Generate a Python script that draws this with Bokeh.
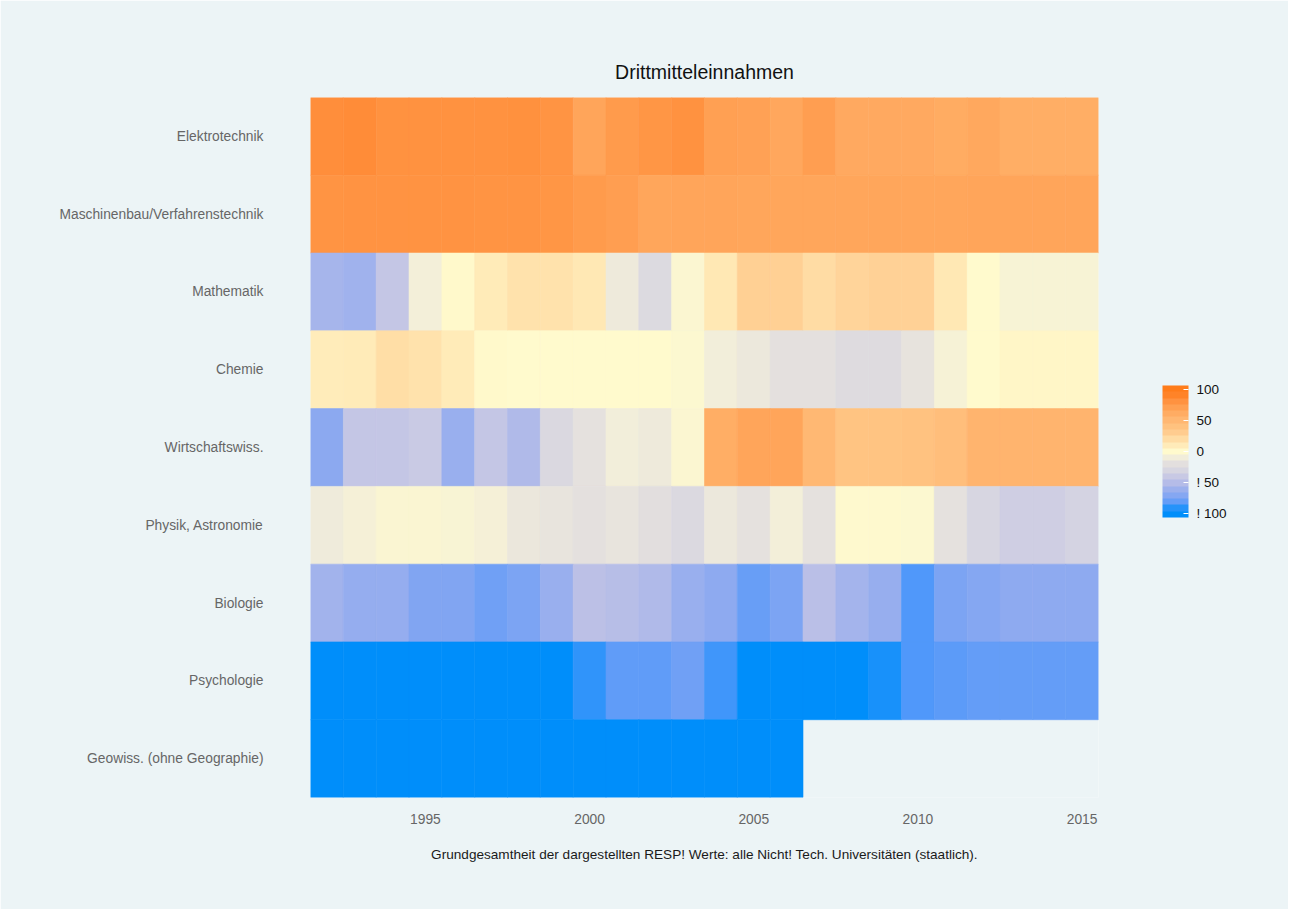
import numpy as np
from bokeh.plotting import figure
from bokeh.models import (ColumnDataSource, LinearColorMapper, ColorBar, FixedTicker,
                          Range1d, Title)
from bokeh.embed import file_html
from bokeh.resources import INLINE

# ---------------- data ----------------
years = list(range(1992, 2016))
rows = ["Elektrotechnik", "Maschinenbau/Verfahrenstechnik", "Mathematik", "Chemie",
        "Wirtschaftswiss.", "Physik, Astronomie", "Biologie", "Psychologie",
        "Geowiss. (ohne Geographie)"]

elektrotechnik = [88, 90, 85, 85, 85, 85, 86, 83, 70, 78, 82, 85,
                  74, 73, 68, 75, 66, 66, 66, 64, 67, 62, 62, 62]
maschinenbau = [83, 84, 84, 84, 84, 83, 83, 82, 78, 75, 69, 70,
                70, 69, 69, 69, 69, 69, 69, 69, 70, 70, 70, 70]
mathematik = [-59, -62, -45, -9, 1, 11, 17, 17, 13, -13, -28, -3,
              13, 29, 29, 21, 26, 28, 28, 13, 0, -6, -6, -6]
chemie = [10, 11, 20, 17, 11, 1, 0, 0, 0, 0, 0, -2,
          -10, -14, -20, -20, -26, -26, -18, -7, 0, 3, 3, 3]
wirtschaft = [-71, -45, -45, -42, -65, -45, -55, -30, -19, -10, -13, -3,
              62, 70, 70, 52, 40, 40, 42, 46, 56, 56, 56, 56]
physik = [-12, -8, -4, -4, -5, -8, -15, -17, -20, -17, -22, -29,
          -14, -19, -9, -19, -1, -1, -2, -19, -32, -38, -38, -34]
biologie = [-61, -67, -67, -76, -76, -82, -78, -65, -50, -52, -55, -65,
            -70, -84, -78, -51, -60, -66, -90, -78, -74, -70, -70, -70]
psychologie = [-100, -100, -100, -100, -100, -100, -100, -100, -94, -86, -86, -82,
               -92, -100, -100, -100, -100, -97, -90, -87, -85, -85, -85, -85]
geowiss = [-100] * 15 + [None] * 9

series = [elektrotechnik, maschinenbau, mathematik, chemie, wirtschaft, physik,
          biologie, psychologie, geowiss]

legend_ticks = [-100, -50, 0, 50, 100]
legend_labels = {-100: "! 100", -50: "! 50", 0: "0", 50: "50", 100: "100"}

title_text = "Drittmitteleinnahmen"
caption_text = "Grundgesamtheit der dargestellten RESP! Werte: alle Nicht! Tech. Universitäten (staatlich)."

# ---------------- palette ----------------
anchor_vals = [-100, -90, -80, -70, -60, -50, -40, -30, -20, -10, 0,
               10, 20, 30, 40, 50, 60, 70, 80, 90, 100]
anchor_rgb = [(0, 142, 250), (80, 152, 250), (120, 162, 244), (142, 170, 240),
              (164, 180, 236), (188, 192, 230), (204, 204, 228), (218, 216, 224),
              (228, 224, 222), (242, 238, 218), (255, 250, 205),
              (255, 236, 186), (255, 222, 166), (255, 206, 146), (255, 196, 130),
              (255, 186, 118), (255, 176, 104), (255, 165, 90), (255, 152, 72),
              (255, 140, 56), (255, 124, 26)]


def make_palette(n, lo=-100, hi=100):
    xs = np.linspace(lo, hi, n)
    arr = np.array(anchor_rgb, dtype=float)
    out = []
    for x in xs:
        r = np.interp(x, anchor_vals, arr[:, 0])
        g = np.interp(x, anchor_vals, arr[:, 1])
        b = np.interp(x, anchor_vals, arr[:, 2])
        out.append("#%02x%02x%02x" % (int(round(r)), int(round(g)), int(round(b))))
    return out


cell_mapper = LinearColorMapper(palette=make_palette(201), low=-100, high=100)
bar_mapper = LinearColorMapper(palette=make_palette(21, -106, 106), low=-106, high=106)

xs, ys, vs = [], [], []
for name, vals in zip(rows, series):
    for yr, v in zip(years, vals):
        if v is None:
            continue
        xs.append(yr)
        ys.append(name)
        vs.append(v)
src = ColumnDataSource(dict(x=xs, y=ys, v=vs))

BG = "#ecf4f6"
W, H = 1288, 909
p = figure(width=W, height=H, output_backend="svg", toolbar_location=None,
           x_range=Range1d(1991.5, 2015.5), y_range=list(reversed(rows)),
           min_border_left=310, min_border_right=W - 1098, min_border_top=97,
           min_border_bottom=H - 797)
p.background_fill_color = BG
p.border_fill_color = BG
p.outline_line_color = None
p.grid.visible = False

p.rect(x="x", y="y", width=1, height=1, source=src,
       fill_color={"field": "v", "transform": cell_mapper},
       line_color={"field": "v", "transform": cell_mapper}, line_width=0.6)

# title
p.title = Title(text=title_text, align="center", text_font="Liberation Sans",
                text_font_size="19.5px", text_font_style="normal",
                text_color="#111111", offset=0, standoff=29)

# axes
for ax in (p.xaxis[0], p.yaxis[0]):
    ax.axis_line_color = None
    ax.major_tick_line_color = None
    ax.minor_tick_line_color = None
    ax.major_label_text_font = "Liberation Sans"
    ax.major_label_text_font_size = "13.8px"
    ax.major_label_text_color = "#666666"

p.yaxis[0].major_label_standoff = 41
p.xaxis[0].ticker = FixedTicker(ticks=[1995, 2000, 2005, 2010, 2015])
p.xaxis[0].major_label_standoff = 10
p.xaxis[0].axis_label = caption_text
p.xaxis[0].axis_label_text_font = "Liberation Sans"
p.xaxis[0].axis_label_text_font_size = "13.6px"
p.xaxis[0].axis_label_text_font_style = "normal"
p.xaxis[0].axis_label_text_color = "#1a1a1a"
p.xaxis[0].axis_label_standoff = 20

cb = ColorBar(color_mapper=bar_mapper, location=(64, 280), width=26, height=132,
              ticker=FixedTicker(ticks=legend_ticks),
              major_label_overrides=legend_labels,
              major_label_text_font="Liberation Sans",
              major_label_text_font_size="13.5px",
              major_label_text_color="#111111",
              major_tick_line_color="white", major_tick_in=5, major_tick_out=0,
              minor_tick_line_color=None, bar_line_color=None, border_line_color=None,
              background_fill_color=None, label_standoff=8, margin=0, padding=0)
p.add_layout(cb, "right")

open("out.html", "w").write(file_html(p, INLINE))
